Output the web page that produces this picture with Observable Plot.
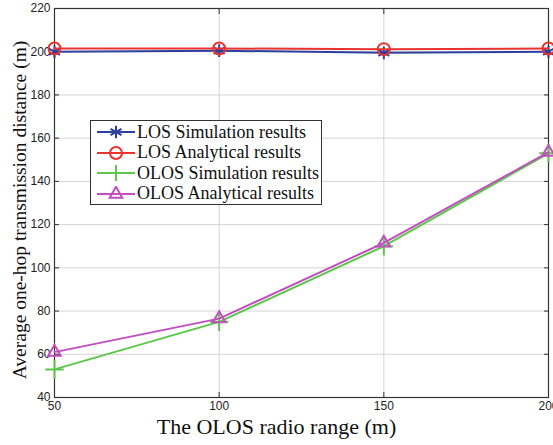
<!DOCTYPE html>
<html><head><meta charset="utf-8">
<script src="https://cdn.jsdelivr.net/npm/d3@7"></script>
<script src="https://cdn.jsdelivr.net/npm/@observablehq/plot@0.6"></script>
<style>
body{margin:0;background:#fff;}
#wrap{position:relative;width:553px;height:445px;overflow:hidden;}
.ttl{position:absolute;font-family:"Liberation Serif","DejaVu Serif",serif;color:#111;white-space:nowrap;}
#legend{position:absolute;left:90px;top:120px;width:232px;height:85px;border:1px solid #333;background:#fff;box-sizing:border-box;font-family:"Liberation Serif",serif;font-size:18px;color:#111;}
.row{display:flex;align-items:center;height:20.5px;margin-left:6px;}
</style></head>
<body><div id="wrap"></div>
<script>
const xs = [50, 100, 150, 200];
const losSim = [200, 200.5, 199.5, 200];
const losAna = [201.5, 201.5, 201.2, 201.5];
const olosSim = [53, 75, 110, 153];
const olosAna = [61, 76.5, 111.5, 153.5];
const names = ["LOS Simulation results","LOS Analytical results","OLOS Simulation results","OLOS Analytical results"];
const colors = ["#2f3f9f","#e8332e","#5cc74a","#c14fbf"];
const symbols = ["asterisk","circle","plus","triangle2"];
const xTicks = [50, 100, 150, 200];
const yTicks = [40, 60, 80, 100, 120, 140, 160, 180, 200, 220];

const series = [losSim, losAna, olosSim, olosAna];
const data = series.flatMap((s, i) => s.map((v, j) => ({x: xs[j], y: v, k: i})));

const marks = [
  Plot.gridX(xTicks, {stroke: "#d4d4d4", strokeOpacity: 1}),
  Plot.gridY(yTicks, {stroke: "#d4d4d4", strokeOpacity: 1}),
  Plot.axisX(xTicks, {tickSize: -5, tickPadding: 9, fontSize: 12, fontFamily: "Liberation Sans, Arial, sans-serif", label: null, stroke: "#333", color: "#222"}),
  Plot.axisX(xTicks, {anchor: "top", tickSize: -5, text: null, label: null, stroke: "#333"}),
  Plot.axisY(yTicks, {tickSize: -5, tickPadding: 9, fontSize: 12, fontFamily: "Liberation Sans, Arial, sans-serif", label: null, stroke: "#333", color: "#222"}),
  Plot.axisY(yTicks, {anchor: "right", tickSize: -5, text: null, label: null, stroke: "#333"}),
  Plot.frame({stroke: "#333", strokeWidth: 1.2})
];
series.forEach((s, i) => {
  const d = data.filter(p => p.k === i);
  marks.push(Plot.line(d, {x: "x", y: "y", stroke: colors[i], strokeWidth: 2}));
  marks.push(Plot.dot(d, {x: "x", y: "y", stroke: colors[i], symbol: () => symbols[i], r: 6, strokeWidth: 2, fill: "none"}));
});

const chart = Plot.plot({
  width: 553, height: 445,
  marginLeft: 54, marginRight: 5, marginTop: 8, marginBottom: 48,
  x: {domain: [50, 200]},
  y: {domain: [40, 220]},
  symbol: {type: "identity"},
  marks
});
const wrap = document.getElementById("wrap");
wrap.appendChild(chart);

const xt = document.createElement("div");
xt.className = "ttl"; xt.textContent = "The OLOS radio range (m)";
xt.style.cssText = "font-size:22px;left:0;width:553px;text-align:center;top:414px;";
wrap.appendChild(xt);
const yt = document.createElement("div");
yt.className = "ttl"; yt.textContent = "Average one-hop transmission distance (m)";
yt.style.cssText = "font-size:19.5px;left:20px;top:210px;transform:translate(-50%,-50%) rotate(-90deg);";
wrap.appendChild(yt);

const lg = document.createElement("div");
lg.id = "legend";
lg.style.paddingTop = "1px";
names.forEach((n, i) => {
  const row = document.createElement("div");
  row.className = "row";
  const svg = d3.create("svg").attr("width", 38).attr("height", 16);
  svg.append("line").attr("x1", 0).attr("x2", 38).attr("y1", 8).attr("y2", 8).attr("stroke", colors[i]).attr("stroke-width", 2);
  const sym = {asterisk: d3.symbolAsterisk, circle: d3.symbolCircle, plus: d3.symbolPlus, triangle2: d3.symbolTriangle2}[symbols[i]];
  svg.append("path").attr("d", d3.symbol(sym, 113)()).attr("transform", "translate(19,8)").attr("fill", "none").attr("stroke", colors[i]).attr("stroke-width", 2);
  row.appendChild(svg.node());
  const sp = document.createElement("span");
  sp.textContent = n; sp.style.marginLeft = "2px";
  row.appendChild(sp);
  lg.appendChild(row);
});
wrap.appendChild(lg);
</script></body></html>
